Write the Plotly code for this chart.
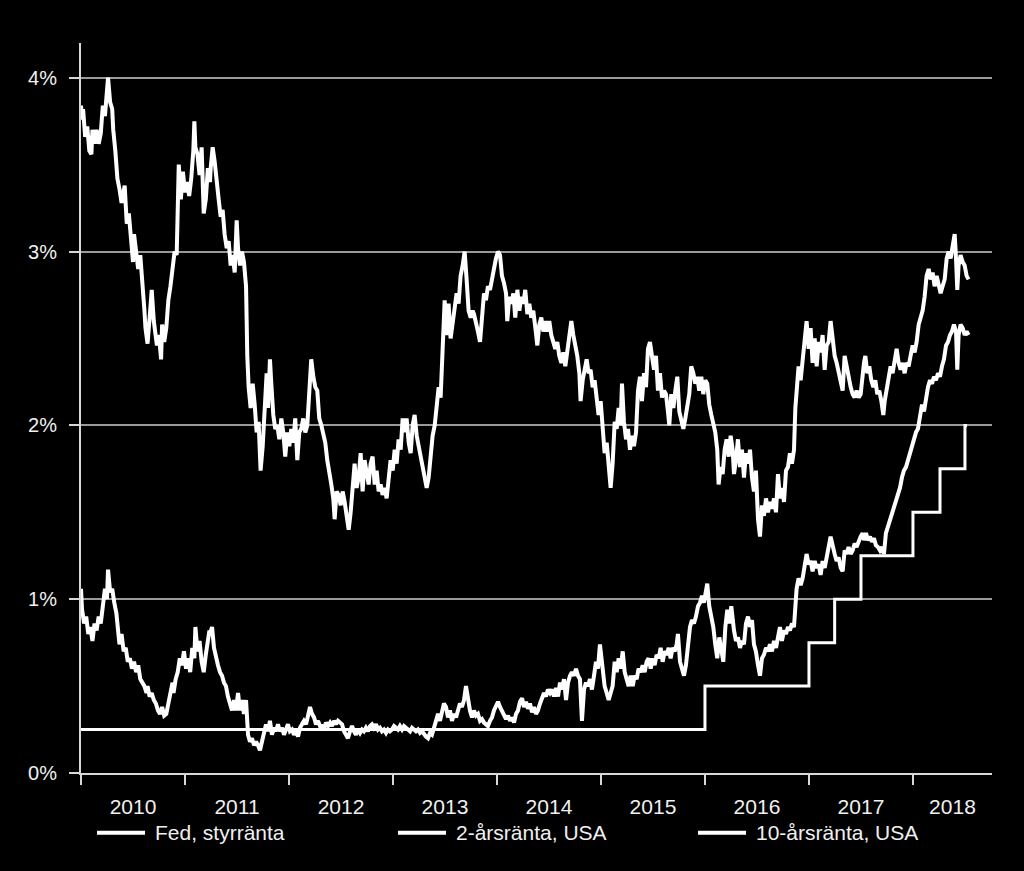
import pandas as pd
import plotly.graph_objects as go

# ---------------- data (time in decimal years, values in %) ----------------
series_names = ["Fed, styrränta", "2-årsränta, USA", "10-årsränta, USA"]
year_labels = ["2010", "2011", "2012", "2013", "2014", "2015", "2016", "2017", "2018"]
y_tick_vals = [0, 1, 2, 3, 4]
y_tick_text = ["0%", "1%", "2%", "3%", "4%"]

fed_t = [2010.0, 2016.0, 2017.0, 2017.247, 2017.5, 2018.0, 2018.26, 2018.5, 2018.52]
fed_v = [0.25, 0.50, 0.75, 1.00, 1.25, 1.50, 1.75, 2.00, 2.00]

t10 = [2010.00, 2010.01, 2010.02, 2010.04, 2010.06, 2010.08, 2010.10, 2010.11, 2010.13, 2010.15,
       2010.17, 2010.19, 2010.21, 2010.23, 2010.26, 2010.28, 2010.30, 2010.31, 2010.33, 2010.35,
       2010.37, 2010.39, 2010.42, 2010.44, 2010.46, 2010.48, 2010.50, 2010.51, 2010.53, 2010.55,
       2010.57, 2010.59, 2010.61, 2010.62, 2010.64, 2010.66, 2010.68, 2010.70, 2010.71, 2010.73,
       2010.75, 2010.77, 2010.78, 2010.80, 2010.82, 2010.84, 2010.86, 2010.88, 2010.90, 2010.92,
       2010.93, 2010.94, 2010.96, 2010.98, 2011.00, 2011.02, 2011.04, 2011.06, 2011.08, 2011.09,
       2011.10, 2011.12, 2011.14, 2011.16, 2011.18, 2011.20, 2011.22, 2011.24,
       2011.247, 2011.266, 2011.285, 2011.305, 2011.324, 2011.343, 2011.362, 2011.381, 2011.401, 2011.420,
       2011.439, 2011.458, 2011.478, 2011.497, 2011.510, 2011.529, 2011.548, 2011.567, 2011.587, 2011.599,
       2011.612, 2011.631, 2011.651, 2011.670, 2011.689, 2011.708, 2011.727, 2011.747, 2011.766, 2011.785,
       2011.798, 2011.817, 2011.830, 2011.849, 2011.868, 2011.888, 2011.907, 2011.926, 2011.945, 2011.964,
       2011.984, 2012.003, 2012.022, 2012.041, 2012.060, 2012.080, 2012.099, 2012.118, 2012.137, 2012.157,
       2012.176, 2012.195, 2012.214, 2012.234, 2012.253, 2012.272, 2012.291, 2012.311, 2012.330, 2012.349,
       2012.368, 2012.388, 2012.407, 2012.426, 2012.439, 2012.458, 2012.478, 2012.497, 2012.516,
       2012.535, 2012.554, 2012.574, 2012.593, 2012.612, 2012.631, 2012.650, 2012.670, 2012.689, 2012.708,
       2012.727, 2012.747, 2012.766, 2012.785, 2012.804, 2012.824, 2012.843, 2012.862, 2012.881, 2012.900,
       2012.920, 2012.939, 2012.958, 2012.977, 2012.997, 2013.016, 2013.035, 2013.054, 2013.074, 2013.093,
       2013.112, 2013.131, 2013.151, 2013.170, 2013.189, 2013.208, 2013.228, 2013.247, 2013.266, 2013.285,
       2013.305, 2013.324, 2013.343, 2013.362, 2013.381, 2013.401, 2013.420, 2013.439, 2013.458, 2013.471,
       2013.484, 2013.497, 2013.516, 2013.535, 2013.554, 2013.574, 2013.593, 2013.612, 2013.631, 2013.650,
       2013.670, 2013.689, 2013.708, 2013.727, 2013.747, 2013.766,
       2013.779, 2013.798, 2013.817, 2013.837, 2013.856, 2013.875, 2013.894, 2013.913, 2013.933, 2013.952,
       2013.971, 2013.990, 2014.010, 2014.029, 2014.048, 2014.067, 2014.087, 2014.099, 2014.119, 2014.138,
       2014.157, 2014.176, 2014.196, 2014.215, 2014.234, 2014.253, 2014.272, 2014.292, 2014.311, 2014.330,
       2014.349, 2014.369, 2014.388, 2014.407, 2014.426, 2014.446, 2014.465, 2014.484, 2014.503, 2014.522,
       2014.542, 2014.561, 2014.580, 2014.599, 2014.619, 2014.638, 2014.657, 2014.676, 2014.696, 2014.715,
       2014.734, 2014.753, 2014.772, 2014.792, 2014.804, 2014.824, 2014.843, 2014.862, 2014.881, 2014.900,
       2014.920, 2014.939, 2014.958, 2014.977, 2014.997, 2015.016,
       2015.035, 2015.055, 2015.074, 2015.093, 2015.112, 2015.132, 2015.151, 2015.170, 2015.189, 2015.202,
       2015.221, 2015.241, 2015.260, 2015.279, 2015.298, 2015.317, 2015.337, 2015.356, 2015.375, 2015.394,
       2015.414, 2015.433, 2015.452, 2015.471, 2015.490, 2015.510, 2015.529, 2015.548, 2015.567, 2015.587,
       2015.606, 2015.625, 2015.644, 2015.657, 2015.676, 2015.696, 2015.715, 2015.734, 2015.753, 2015.772,
       2015.792, 2015.811, 2015.830, 2015.849, 2015.868, 2015.888, 2015.907, 2015.926, 2015.945, 2015.965,
       2015.984, 2016.003, 2016.022, 2016.041, 2016.061, 2016.080, 2016.099, 2016.118, 2016.131, 2016.150,
       2016.170, 2016.189, 2016.208, 2016.228, 2016.247, 2016.266,
       2016.279, 2016.298, 2016.317, 2016.337, 2016.356, 2016.375, 2016.394, 2016.414, 2016.433, 2016.452,
       2016.471, 2016.490, 2016.510, 2016.529, 2016.548, 2016.567, 2016.587, 2016.606, 2016.625, 2016.644,
       2016.664, 2016.683, 2016.702, 2016.721, 2016.740, 2016.760, 2016.779, 2016.798, 2016.817, 2016.836,
       2016.856, 2016.869, 2016.881, 2016.900, 2016.920, 2016.939, 2016.958, 2016.977, 2016.997, 2017.016,
       2017.035, 2017.055, 2017.074, 2017.093, 2017.112, 2017.131, 2017.151, 2017.170, 2017.189, 2017.208,
       2017.228, 2017.247, 2017.266, 2017.285, 2017.305, 2017.324, 2017.343, 2017.362, 2017.381, 2017.401,
       2017.420, 2017.439, 2017.458, 2017.478, 2017.497, 2017.516,
       2017.529, 2017.542, 2017.561, 2017.580, 2017.599, 2017.619, 2017.638, 2017.657, 2017.676, 2017.696,
       2017.715, 2017.728, 2017.747, 2017.766, 2017.785, 2017.804, 2017.824, 2017.843, 2017.862, 2017.881,
       2017.900, 2017.920, 2017.939, 2017.958, 2017.977, 2017.997, 2018.016, 2018.035, 2018.055, 2018.074,
       2018.093, 2018.112, 2018.131, 2018.151, 2018.170, 2018.189, 2018.208, 2018.228, 2018.247, 2018.266,
       2018.285, 2018.305, 2018.324, 2018.343, 2018.362, 2018.381, 2018.401, 2018.414, 2018.426, 2018.439,
       2018.458, 2018.478, 2018.497, 2018.516, 2018.535]
v10 = [3.84, 3.76, 3.82, 3.66, 3.72, 3.58, 3.56, 3.70, 3.62, 3.70,
       3.62, 3.68, 3.84, 3.78, 4.00, 3.86, 3.82, 3.70, 3.58, 3.42,
       3.36, 3.28, 3.38, 3.16, 3.22, 3.05, 2.94, 3.10, 2.98, 2.90,
       2.98, 2.84, 2.66, 2.56, 2.47, 2.62, 2.78, 2.60, 2.54, 2.46,
       2.52, 2.38, 2.58, 2.48, 2.56, 2.72, 2.80, 2.92, 3.00, 2.98,
       3.30, 3.50, 3.30, 3.46, 3.34, 3.40, 3.32, 3.42, 3.58, 3.75,
       3.60, 3.56, 3.44, 3.60, 3.22, 3.30, 3.48, 3.40,
       3.48, 3.60, 3.52, 3.38, 3.30, 3.20, 3.24, 3.10, 3.02, 3.06,
       2.92, 2.98, 2.88, 3.18, 3.02, 2.92, 3.00, 2.94, 2.80, 2.40,
       2.22, 2.10, 2.24, 2.12, 1.96, 2.02, 1.74, 1.88, 2.12, 2.30,
       2.10, 2.38, 2.24, 2.06, 1.98, 2.00, 1.92, 2.04, 1.96, 1.82,
       1.96, 1.88, 1.98, 1.90, 2.04, 1.80, 1.96, 1.98, 2.04, 1.96,
       2.00, 2.20, 2.38, 2.28, 2.22, 2.20, 2.04, 2.00, 1.94, 1.90,
       1.80, 1.74, 1.66, 1.58, 1.46, 1.62, 1.60, 1.54, 1.62,
       1.56, 1.46, 1.40, 1.50, 1.62, 1.78, 1.64, 1.70, 1.84, 1.62,
       1.80, 1.72, 1.66, 1.78, 1.82, 1.66, 1.74, 1.62, 1.66, 1.60,
       1.64, 1.58, 1.70, 1.80, 1.74, 1.86, 1.78, 1.92, 1.86, 2.04,
       1.96, 2.04, 1.90, 1.84, 2.00, 2.06, 1.94, 1.88, 1.80, 1.74,
       1.70, 1.64, 1.70, 1.82, 1.94, 2.00, 2.14, 2.22, 2.16, 2.40,
       2.62, 2.72, 2.52, 2.70, 2.50, 2.60, 2.70, 2.76, 2.70, 2.86,
       2.92, 3.00, 2.84, 2.66, 2.62, 2.66,
       2.64, 2.60, 2.54, 2.48, 2.66, 2.76, 2.72, 2.80, 2.78, 2.86,
       2.90, 2.96, 3.00, 2.98, 2.86, 2.82, 2.76, 2.60, 2.74, 2.70,
       2.76, 2.62, 2.78, 2.66, 2.74, 2.70, 2.78, 2.64, 2.70, 2.62,
       2.66, 2.56, 2.46, 2.58, 2.62, 2.54, 2.60, 2.54, 2.60, 2.52,
       2.48, 2.44, 2.48, 2.40, 2.36, 2.42, 2.34, 2.42, 2.52, 2.60,
       2.52, 2.46, 2.40, 2.30, 2.14, 2.26, 2.34, 2.38, 2.30, 2.32,
       2.22, 2.26, 2.16, 2.06, 2.14, 1.96,
       1.84, 1.90, 1.74, 1.64, 1.78, 2.02, 1.98, 2.10, 2.00, 2.24,
       2.02, 1.92, 1.98, 1.86, 1.94, 1.88, 1.96, 2.20, 2.28, 2.14,
       2.30, 2.22, 2.44, 2.48, 2.40, 2.32, 2.40, 2.20, 2.30, 2.16,
       2.20, 2.18, 2.08, 2.00, 2.18, 2.10, 2.20, 2.28, 2.08, 2.02,
       1.98, 2.04, 2.12, 2.18, 2.34, 2.30, 2.24, 2.28, 2.20, 2.28,
       2.18, 2.26, 2.24, 2.12, 2.06, 2.02, 1.96, 1.86, 1.66, 1.76,
       1.72, 1.86, 1.92, 1.82, 1.94, 1.86,
       1.72, 1.80, 1.92, 1.76, 1.86, 1.70, 1.84, 1.78, 1.86, 1.70,
       1.62, 1.74, 1.46, 1.36, 1.54, 1.48, 1.58, 1.50, 1.56, 1.52,
       1.58, 1.50, 1.72, 1.58, 1.64, 1.56, 1.74, 1.76, 1.84, 1.78,
       1.86, 2.10, 2.22, 2.34, 2.26, 2.38, 2.50, 2.60, 2.44, 2.56,
       2.36, 2.50, 2.34, 2.48, 2.42, 2.52, 2.32, 2.46, 2.48, 2.60,
       2.50, 2.40, 2.36, 2.30, 2.26, 2.20, 2.40, 2.34, 2.26, 2.22,
       2.18, 2.16, 2.20, 2.16, 2.18, 2.30,
       2.36, 2.40, 2.30, 2.34, 2.26, 2.22, 2.26, 2.18, 2.20, 2.14,
       2.06, 2.14, 2.22, 2.30, 2.34, 2.30, 2.36, 2.44, 2.36, 2.32,
       2.36, 2.30, 2.36, 2.34, 2.40, 2.46, 2.42, 2.48, 2.58, 2.62,
       2.66, 2.74, 2.86, 2.90, 2.84, 2.88, 2.80, 2.86, 2.82, 2.76,
       2.80, 2.84, 2.96, 3.00, 2.96, 3.02, 3.10, 2.96, 2.78, 2.92,
       2.98, 2.94, 2.92, 2.86, 2.84]

t2 = [2010.00, 2010.01, 2010.03, 2010.05, 2010.07, 2010.09, 2010.11, 2010.13, 2010.15, 2010.17,
      2010.19, 2010.21, 2010.23, 2010.25, 2010.26, 2010.28, 2010.30, 2010.32, 2010.34, 2010.36,
      2010.37, 2010.39, 2010.41, 2010.43, 2010.45, 2010.47, 2010.49, 2010.51, 2010.53, 2010.55,
      2010.57, 2010.59, 2010.61, 2010.63, 2010.64, 2010.66, 2010.68, 2010.70, 2010.72, 2010.74,
      2010.76, 2010.78, 2010.80, 2010.82, 2010.84, 2010.86, 2010.88, 2010.89, 2010.91, 2010.93,
      2010.95, 2010.97, 2010.99, 2011.01, 2011.03, 2011.05, 2011.07, 2011.09, 2011.10, 2011.12,
      2011.14, 2011.16, 2011.18, 2011.20, 2011.22, 2011.235,
      2011.240, 2011.260, 2011.279, 2011.298, 2011.317, 2011.337, 2011.356, 2011.375, 2011.394, 2011.413,
      2011.433, 2011.452, 2011.471, 2011.490, 2011.510, 2011.529, 2011.548, 2011.567, 2011.587, 2011.606,
      2011.625, 2011.644, 2011.664, 2011.683, 2011.702, 2011.721, 2011.740, 2011.760, 2011.779, 2011.798,
      2011.817, 2011.836, 2011.856, 2011.875, 2011.894, 2011.913, 2011.933, 2011.952, 2011.971, 2011.990,
      2012.009, 2012.029, 2012.048, 2012.067, 2012.087, 2012.106, 2012.125, 2012.144, 2012.164, 2012.183,
      2012.202, 2012.221, 2012.241, 2012.260, 2012.279, 2012.298, 2012.318, 2012.337, 2012.356, 2012.375,
      2012.395, 2012.414, 2012.433, 2012.452, 2012.471, 2012.490, 2012.510,
      2012.529, 2012.548, 2012.567, 2012.587, 2012.606, 2012.625, 2012.644, 2012.663, 2012.683, 2012.702,
      2012.721, 2012.740, 2012.760, 2012.779, 2012.798, 2012.817, 2012.837, 2012.856, 2012.875, 2012.894,
      2012.913, 2012.933, 2012.952, 2012.971, 2012.990, 2013.010, 2013.029, 2013.048, 2013.067, 2013.087,
      2013.106, 2013.125, 2013.144, 2013.164, 2013.183, 2013.202, 2013.221, 2013.240, 2013.260, 2013.279,
      2013.298, 2013.317, 2013.337, 2013.356, 2013.375, 2013.394, 2013.414, 2013.433, 2013.452, 2013.471,
      2013.490, 2013.510, 2013.529, 2013.548, 2013.567, 2013.587, 2013.606, 2013.625, 2013.644, 2013.663,
      2013.683, 2013.702, 2013.721, 2013.740, 2013.760,
      2013.779, 2013.798, 2013.817, 2013.837, 2013.856, 2013.875, 2013.894, 2013.913, 2013.933, 2013.952,
      2013.971, 2013.990, 2014.010, 2014.029, 2014.048, 2014.067, 2014.087, 2014.106, 2014.125, 2014.144,
      2014.164, 2014.183, 2014.202, 2014.221, 2014.241, 2014.260, 2014.279, 2014.298, 2014.317, 2014.337,
      2014.356, 2014.375, 2014.394, 2014.414, 2014.433, 2014.452, 2014.471, 2014.490, 2014.510, 2014.529,
      2014.548, 2014.567, 2014.587, 2014.606, 2014.625, 2014.644, 2014.664, 2014.683, 2014.702, 2014.721,
      2014.740, 2014.760, 2014.779, 2014.798, 2014.817, 2014.837, 2014.856, 2014.875, 2014.894, 2014.913,
      2014.933, 2014.952, 2014.971, 2014.990, 2015.005,
      2015.016, 2015.035, 2015.055, 2015.074, 2015.093, 2015.112, 2015.132, 2015.151, 2015.170, 2015.189,
      2015.209, 2015.228, 2015.247, 2015.266, 2015.285, 2015.305, 2015.324, 2015.343, 2015.362, 2015.381,
      2015.401, 2015.420, 2015.439, 2015.458, 2015.478, 2015.497, 2015.516, 2015.535, 2015.554, 2015.574,
      2015.593, 2015.612, 2015.631, 2015.651, 2015.670, 2015.689, 2015.708, 2015.728, 2015.740, 2015.760,
      2015.779, 2015.798, 2015.817, 2015.837, 2015.856, 2015.875, 2015.894, 2015.913, 2015.933, 2015.952,
      2015.971, 2015.990, 2016.010, 2016.022, 2016.041, 2016.061, 2016.080, 2016.099, 2016.118, 2016.138,
      2016.157, 2016.176, 2016.196, 2016.215, 2016.234, 2016.253,
      2016.279, 2016.298, 2016.317, 2016.337, 2016.356, 2016.375, 2016.394, 2016.414, 2016.433, 2016.452,
      2016.471, 2016.490, 2016.510, 2016.529, 2016.548, 2016.567, 2016.587, 2016.606, 2016.625, 2016.644,
      2016.664, 2016.683, 2016.702, 2016.721, 2016.740, 2016.760, 2016.779, 2016.798, 2016.817, 2016.836,
      2016.856, 2016.869, 2016.881, 2016.900, 2016.920, 2016.939, 2016.958, 2016.977, 2016.997, 2017.016,
      2017.035, 2017.055, 2017.074, 2017.093, 2017.112, 2017.131, 2017.151, 2017.170, 2017.189, 2017.208,
      2017.228, 2017.247, 2017.266, 2017.285, 2017.305, 2017.324, 2017.343, 2017.362, 2017.381, 2017.401,
      2017.420, 2017.439, 2017.458, 2017.478, 2017.497, 2017.516,
      2017.529, 2017.548, 2017.567, 2017.587, 2017.606, 2017.625, 2017.644, 2017.663, 2017.683, 2017.702,
      2017.721, 2017.740, 2017.760, 2017.779, 2017.798, 2017.817, 2017.837, 2017.856, 2017.875, 2017.894,
      2017.913, 2017.933, 2017.952, 2017.971, 2017.990, 2018.010, 2018.029, 2018.048, 2018.067, 2018.087,
      2018.106, 2018.125, 2018.144, 2018.164, 2018.183, 2018.202, 2018.221, 2018.241, 2018.260, 2018.279,
      2018.298, 2018.318, 2018.337, 2018.356, 2018.375, 2018.394, 2018.414, 2018.426, 2018.439, 2018.458,
      2018.478, 2018.497, 2018.516, 2018.535]
v2 = [1.06, 0.94, 0.86, 0.90, 0.80, 0.84, 0.76, 0.86, 0.82, 0.90,
      0.86, 0.96, 1.06, 1.00, 1.17, 1.04, 1.06, 0.98, 0.92, 0.80,
      0.74, 0.80, 0.70, 0.72, 0.64, 0.66, 0.60, 0.64, 0.58, 0.62,
      0.54, 0.52, 0.50, 0.46, 0.50, 0.44, 0.46, 0.42, 0.40, 0.36,
      0.34, 0.38, 0.33, 0.34, 0.40, 0.44, 0.52, 0.46, 0.54, 0.58,
      0.66, 0.62, 0.70, 0.60, 0.66, 0.58, 0.72, 0.66, 0.84, 0.70,
      0.76, 0.64, 0.58, 0.68, 0.76, 0.82,
      0.80, 0.84, 0.72, 0.66, 0.62, 0.58, 0.56, 0.52, 0.50, 0.44,
      0.40, 0.36, 0.42, 0.36, 0.46, 0.36, 0.42, 0.34, 0.42, 0.22,
      0.18, 0.20, 0.16, 0.18, 0.16, 0.13, 0.18, 0.24, 0.28, 0.24,
      0.30, 0.22, 0.26, 0.24, 0.28, 0.24, 0.26, 0.22, 0.26, 0.28,
      0.24, 0.25, 0.22, 0.24, 0.21, 0.26, 0.28, 0.30, 0.28, 0.32,
      0.38, 0.34, 0.32, 0.28, 0.30, 0.27, 0.27, 0.26, 0.29, 0.27,
      0.29, 0.27, 0.30, 0.28, 0.30, 0.29, 0.28,
      0.24, 0.22, 0.20, 0.24, 0.27, 0.24, 0.22, 0.25, 0.23, 0.25,
      0.24, 0.26, 0.24, 0.27, 0.28, 0.26, 0.28, 0.25, 0.26, 0.24,
      0.25, 0.23, 0.25, 0.24, 0.25, 0.27, 0.26, 0.25, 0.27, 0.25,
      0.27, 0.26, 0.25, 0.24, 0.26, 0.25, 0.24, 0.25, 0.23, 0.24,
      0.22, 0.21, 0.20, 0.23, 0.22, 0.26, 0.30, 0.34, 0.30, 0.36,
      0.40, 0.38, 0.32, 0.36, 0.30, 0.34, 0.32, 0.36, 0.40, 0.38,
      0.42, 0.50, 0.42, 0.36, 0.32,
      0.36, 0.33, 0.34, 0.30, 0.31, 0.29, 0.28, 0.27, 0.30, 0.32,
      0.36, 0.38, 0.41, 0.38, 0.36, 0.33, 0.31, 0.33, 0.30, 0.32,
      0.29, 0.34, 0.36, 0.41, 0.43, 0.38, 0.41, 0.37, 0.40, 0.35,
      0.38, 0.34, 0.36, 0.40, 0.44, 0.46, 0.44, 0.48, 0.46, 0.48,
      0.44, 0.49, 0.44, 0.52, 0.48, 0.54, 0.42, 0.52, 0.56, 0.58,
      0.56, 0.60, 0.56, 0.54, 0.30, 0.48, 0.52, 0.50, 0.54, 0.48,
      0.56, 0.64, 0.60, 0.74, 0.66,
      0.58, 0.50, 0.46, 0.42, 0.46, 0.50, 0.64, 0.58, 0.66, 0.60,
      0.70, 0.58, 0.54, 0.50, 0.56, 0.50, 0.56, 0.54, 0.60, 0.58,
      0.62, 0.58, 0.64, 0.66, 0.60, 0.66, 0.62, 0.68, 0.66, 0.72,
      0.64, 0.70, 0.68, 0.72, 0.66, 0.72, 0.70, 0.74, 0.80, 0.64,
      0.60, 0.56, 0.62, 0.72, 0.84, 0.88, 0.86, 0.90, 0.96, 0.98,
      1.02, 0.98, 1.04, 1.09, 0.96, 0.90, 0.84, 0.74, 0.66, 0.78,
      0.70, 0.64, 0.84, 0.94, 0.86, 0.96,
      0.82, 0.76, 0.78, 0.72, 0.76, 0.74, 0.86, 0.90, 0.84, 0.88,
      0.74, 0.70, 0.62, 0.56, 0.66, 0.68, 0.72, 0.70, 0.74, 0.70,
      0.76, 0.72, 0.78, 0.84, 0.76, 0.82, 0.80, 0.84, 0.82, 0.86,
      0.84, 0.96, 1.06, 1.12, 1.08, 1.12, 1.18, 1.26, 1.20, 1.22,
      1.16, 1.22, 1.18, 1.20, 1.14, 1.22, 1.18, 1.26, 1.30, 1.36,
      1.30, 1.26, 1.22, 1.24, 1.18, 1.16, 1.28, 1.26, 1.30, 1.26,
      1.28, 1.32, 1.30, 1.34, 1.36, 1.38,
      1.34, 1.38, 1.34, 1.36, 1.33, 1.35, 1.31, 1.30, 1.28, 1.30,
      1.26, 1.38, 1.42, 1.46, 1.50, 1.54, 1.56, 1.60, 1.64, 1.70,
      1.74, 1.76, 1.80, 1.84, 1.88, 1.92, 1.96, 1.98, 2.06, 2.12,
      2.08, 2.16, 2.22, 2.26, 2.24, 2.28, 2.26, 2.30, 2.28, 2.34,
      2.38, 2.46, 2.48, 2.52, 2.54, 2.58, 2.54, 2.32, 2.52, 2.58,
      2.56, 2.52, 2.54, 2.52]

x_start, x_end = 2010.0, 2018.76
label_centres = [2010.5, 2011.5, 2012.5, 2013.5, 2014.5, 2015.5, 2016.5, 2017.5, 2018.38]
year_starts = [2010, 2011, 2012, 2013, 2014, 2015, 2016, 2017, 2018]


def to_date(t):
    return pd.Timestamp("2010-01-01") + pd.to_timedelta((t - 2010.0) * 365.25, unit="D")


def to_dates(ts):
    return [to_date(t) for t in ts]


TXT = "#f0f0f0"
FONT = "Liberation Sans, Arial, sans-serif"

fig = go.Figure()
fig.add_trace(go.Scatter(x=to_dates(fed_t), y=fed_v, mode="lines", name=series_names[0],
                         line=dict(color="white", width=3, shape="hv")))
fig.add_trace(go.Scatter(x=to_dates(t2), y=v2, mode="lines", name=series_names[1],
                         line=dict(color="white", width=4)))
fig.add_trace(go.Scatter(x=to_dates(t10), y=v10, mode="lines", name=series_names[2],
                         line=dict(color="white", width=4)))

fig.update_layout(
    width=1024, height=871,
    paper_bgcolor="black", plot_bgcolor="black",
    margin=dict(l=81, r=32, t=43, b=98),
    showlegend=False,
    font=dict(family=FONT, color=TXT, size=20),
)
fig.update_xaxes(
    type="date",
    range=[to_date(x_start), to_date(x_end)],
    tickmode="array",
    tickvals=to_dates(label_centres), ticktext=year_labels,
    ticks="outside", ticklen=10, tickcolor="black", tickwidth=2,
    tickfont=dict(size=21, color=TXT, family=FONT),
    ticklabelstandoff=4,
    showgrid=False, zeroline=False,
    showline=True, linecolor="#d8d8d8", linewidth=2,
    minor=dict(tickmode="array", tickvals=to_dates(year_starts), ticks="outside",
               ticklen=10, tickcolor="#d8d8d8", tickwidth=2, showgrid=False),
)
fig.update_yaxes(
    range=[0, 4.2],
    tickmode="array", tickvals=y_tick_vals, ticktext=y_tick_text,
    ticks="outside", ticklen=10, tickcolor="#d8d8d8", tickwidth=2,
    tickfont=dict(size=20, color=TXT, family=FONT),
    ticklabelstandoff=8,
    showgrid=True, gridcolor="#9a9a9a", gridwidth=1.5,
    zeroline=False,
    showline=True, linecolor="#d8d8d8", linewidth=2,
)

# manual legend (long line samples like the original)
legend_x = [0.0176, 0.348, 0.6773]
sample_len = 0.0527
legend_y = -0.082
for name, lx in zip(series_names, legend_x):
    fig.add_shape(type="line", xref="paper", yref="paper",
                  x0=lx, x1=lx + sample_len, y0=legend_y, y1=legend_y,
                  line=dict(color="white", width=4))
    fig.add_annotation(xref="paper", yref="paper", x=lx + sample_len + 0.0088, y=legend_y,
                       text=name, showarrow=False, xanchor="left", yanchor="middle",
                       font=dict(size=21, color=TXT, family=FONT))

fig.write_html(
    "out.html",
    config={"displayModeBar": False},
    post_script="document.body.style.margin='0';document.body.style.background='black';",
)
